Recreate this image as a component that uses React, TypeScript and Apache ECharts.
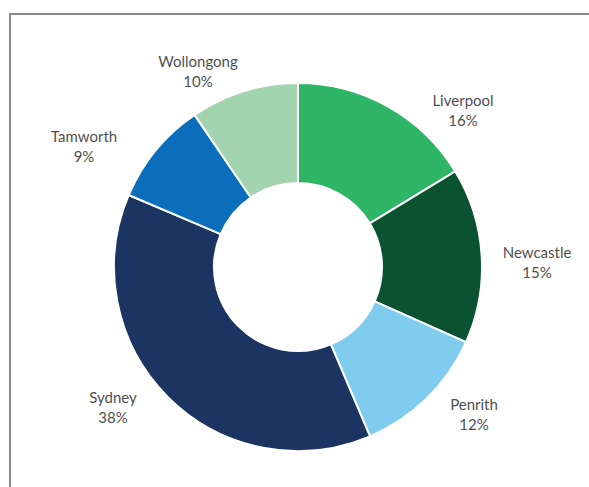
import React, { useEffect, useRef } from "react";
import * as echarts from "echarts";

const categories = ["Liverpool", "Newcastle", "Penrith", "Sydney", "Tamworth", "Wollongong"];
const values = [16.3, 15.4, 11.9, 37.8, 9.1, 9.5];
const colors = ["#2EB566", "#0A5230", "#7FCCEF", "#1C3461", "#0A6EBD", "#A2D5AF"];
// label centre positions (px) for each slice label
const labelPositions: [number, number][] = [
  [463, 110],
  [537, 262],
  [474, 414],
  [113, 407],
  [84, 146],
  [198, 71],
];

export default function App() {
  const ref = useRef<HTMLDivElement>(null);
  useEffect(() => {
    if (!ref.current) return;
    const chart = echarts.init(ref.current, null, { renderer: "svg" });
    chart.setOption({
      animation: false,
      backgroundColor: "#ffffff",
      graphic: [
        {
          type: "rect",
          shape: { x: 10, y: 14, width: 640, height: 540 },
          style: { fill: "none", stroke: "#8a8a8a", lineWidth: 2 },
          silent: true,
        },
      ],
      series: [
        {
          type: "pie",
          center: [298, 267],
          radius: [84, 184],
          startAngle: 90,
          clockwise: true,
          avoidLabelOverlap: false,
          itemStyle: { borderColor: "#ffffff", borderWidth: 2 },
          label: {
            show: true,
            position: "outside",
            formatter: (p: any) => `${p.name}\n${Math.round(p.percent)}%`,
            color: "#505050",
            fontFamily: "Lato",
            fontSize: 15,
            lineHeight: 20,
            align: "center",
          },
          labelLine: { show: false },
          labelLayout: (params: any) => {
            const pos = labelPositions[params.dataIndex];
            return { x: pos[0], y: pos[1], align: "center", verticalAlign: "middle" };
          },
          emphasis: { disabled: true },
          data: categories.map((name, i) => ({
            name,
            value: values[i],
            itemStyle: { color: colors[i] },
          })),
        },
      ],
    });
    return () => chart.dispose();
  }, []);
  return (
    <div
      ref={ref}
      style={{ position: "absolute", left: 0, top: 0, width: 589, height: 487 }}
    />
  );
}
